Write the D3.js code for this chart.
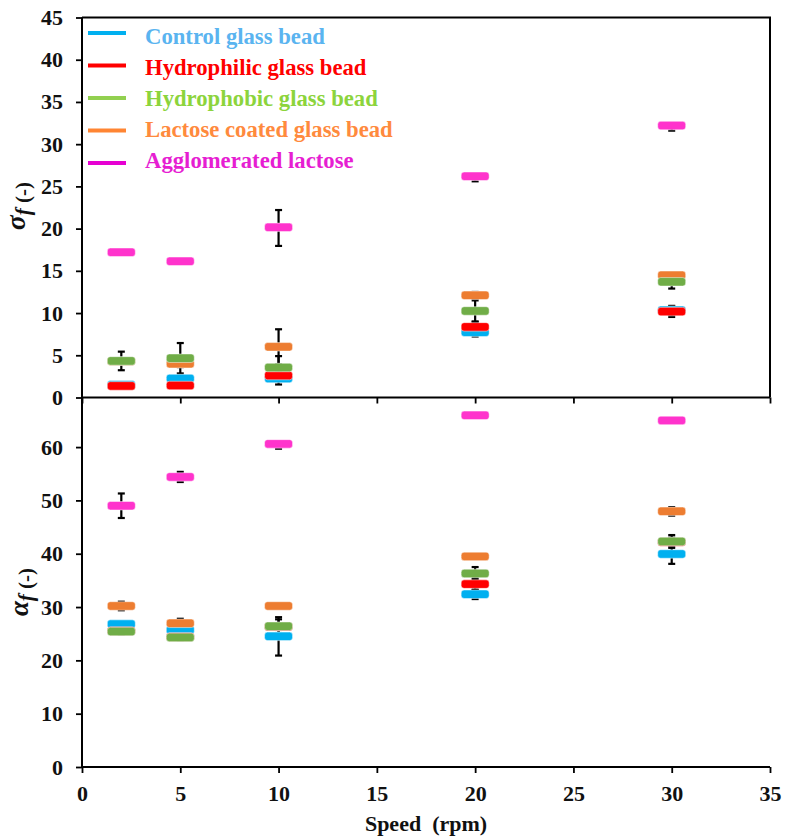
<!DOCTYPE html>
<html>
<head>
<meta charset="utf-8">
<script src="https://cdn.jsdelivr.net/npm/d3@7"></script>
<style>
  html, body { margin: 0; padding: 0; background: #fff; }
  svg { display: block; font-family: "Liberation Serif", "Times New Roman", serif; }
</style>
</head>
<body>
<svg id="chart" width="785" height="838"></svg>
<script>
// ---------------- DATA ----------------
const speeds = [2, 5, 10, 20, 30];
const seriesNames = ["Control glass bead", "Hydrophilic glass bead", "Hydrophobic glass bead", "Lactose coated glass bead", "Agglomerated lactose"];
const xTicks = [0, 5, 10, 15, 20, 25, 30, 35];
const sigmaTicks = [0, 5, 10, 15, 20, 25, 30, 35, 40, 45];
const alphaTicks = [0, 10, 20, 30, 40, 50, 60];

// sigma_f (top panel): means, lower and upper error
const sigmaControl        = [1.50, 2.25, 2.25, 7.73, 10.33];
const sigmaControlErr     = [0.20, 0.30, 0.71, 0.50, 0.52];
const sigmaHydrophilic    = [1.37, 1.42, 2.60, 8.36, 10.17];
const sigmaHydrophilicErr = [0.20, 0.20, 0.30, 0.60, 0.63];
const sigmaHydrophobic    = [4.33, 4.65, 3.55, 10.25, 13.70];
const sigmaHydrophobicErr = [1.10, 1.80, 1.35, 1.25, 0.80];
const sigmaLactose        = [4.30, 4.00, 6.00, 12.10, 14.47];
const sigmaLactoseErr     = [0.30, 0.40, 2.08, 0.40, 0.30];
const sigmaAgglom         = [17.20, 16.13, 20.15, 26.20, 32.20];
const sigmaAgglomErrLow   = [0.30, 0.30, 2.20, 0.60, 0.60];
const sigmaAgglomErrHigh  = [0.30, 0.30, 2.05, 0.30, 0.30];

// alpha_f (bottom panel): means, lower and upper error
const alphaControl        = [26.8, 25.7, 24.5, 32.4, 39.95];
const alphaControlErr     = [0.5, 0.5, 3.6, 0.9, 1.85];
const alphaHydrophilic    = [25.5, 24.4, 26.3, 34.3, 42.2];
const alphaHydrophilicErr = [0.5, 0.5, 0.6, 1.1, 0.8];
const alphaHydrophobic    = [25.4, 24.3, 26.4, 36.3, 42.3];
const alphaHydrophobicErr = [0.5, 0.5, 1.3, 1.2, 1.2];
const alphaLactose        = [30.2, 26.95, 30.2, 39.5, 47.95];
const alphaLactoseErr     = [0.8, 0.85, 0.3, 0.3, 0.8];
const alphaAgglom         = [49.0, 54.4, 60.6, 65.95, 65.0];
const alphaAgglomErrLow   = [2.3, 0.95, 0.9, 0.4, 0.4];
const alphaAgglomErrHigh  = [2.3, 0.95, 0.4, 0.4, 0.4];

// ---------------- STYLE ----------------
const markerColors = ["#00B0F0", "#FF0000", "#70AD47", "#ED7D31", "#FF33CC"];
const legendLineColors = ["#00B0F0", "#FF0000", "#92D050", "#FF8533", "#E600D2"];
const legendTextColors = ["#5AB4F0", "#FF0000", "#8CD43C", "#FF8A3D", "#E61ED2"];
const drawOrder = [0, 1, 3, 2, 4];

const svg = d3.select("#chart");
const pLeft = 82, pRight = 770, pTop = 17.5, pMid = 397.5, pBottom = 767;

const x = d3.scaleLinear().domain([0, 35]).range([pLeft, pRight]);
const ySig = d3.scaleLinear().domain([0, 45]).range([pMid, pTop]);
const yAlp = d3.scaleLinear().domain([0, 69.3]).range([pBottom, pMid]);

const sigmaSeries = [
  [sigmaControl, sigmaControlErr, sigmaControlErr],
  [sigmaHydrophilic, sigmaHydrophilicErr, sigmaHydrophilicErr],
  [sigmaHydrophobic, sigmaHydrophobicErr, sigmaHydrophobicErr],
  [sigmaLactose, sigmaLactoseErr, sigmaLactoseErr],
  [sigmaAgglom, sigmaAgglomErrLow, sigmaAgglomErrHigh]
];
const alphaSeries = [
  [alphaControl, alphaControlErr, alphaControlErr],
  [alphaHydrophilic, alphaHydrophilicErr, alphaHydrophilicErr],
  [alphaHydrophobic, alphaHydrophobicErr, alphaHydrophobicErr],
  [alphaLactose, alphaLactoseErr, alphaLactoseErr],
  [alphaAgglom, alphaAgglomErrLow, alphaAgglomErrHigh]
];

function styleAxis(g) {
  g.selectAll(".domain").remove();
  g.selectAll(".tick line").attr("stroke", "#000").attr("stroke-width", 1.8);
  g.selectAll(".tick text").attr("fill", "#111").attr("font-size", 22).attr("font-weight", "bold")
    .attr("font-family", "'Liberation Serif', 'Times New Roman', serif");
}

// Axes
svg.append("g").attr("transform", `translate(0,${pMid})`)
  .call(d3.axisBottom(x).tickValues(xTicks).tickSize(6).tickFormat(""))
  .call(styleAxis);
svg.append("g").attr("transform", `translate(0,${pBottom})`)
  .call(d3.axisBottom(x).tickValues(xTicks).tickSize(6).tickPadding(12).tickFormat(d3.format("d")))
  .call(styleAxis);
svg.append("g").attr("transform", `translate(${pLeft},0)`)
  .call(d3.axisLeft(ySig).tickValues(sigmaTicks).tickSize(6).tickPadding(13).tickFormat(d3.format("d")))
  .call(styleAxis);
svg.append("g").attr("transform", `translate(${pLeft},0)`)
  .call(d3.axisLeft(yAlp).tickValues(alphaTicks).tickSize(6).tickPadding(13).tickFormat(d3.format("d")))
  .call(styleAxis);

// Frame lines
const frame = svg.append("g").attr("stroke", "#000").attr("stroke-width", 2).attr("fill", "none");
frame.append("path").attr("d", `M${pLeft},${pTop}H${pRight}V${pMid}`);
frame.append("line").attr("x1", pLeft).attr("x2", pRight).attr("y1", pMid).attr("y2", pMid);
frame.append("line").attr("x1", pLeft).attr("x2", pRight).attr("y1", pBottom).attr("y2", pBottom);
frame.append("line").attr("x1", pLeft).attr("x2", pLeft).attr("y1", pTop).attr("y2", pBottom);

// Panels
function drawPanel(series, y) {
  const g = svg.append("g");
  const capW = 7;
  series.forEach(([vals, lo, hi]) => {
    vals.forEach((v, i) => {
      const cx = x(speeds[i]);
      const y1 = y(v + hi[i]), y2 = y(v - lo[i]);
      g.append("line").attr("x1", cx).attr("x2", cx).attr("y1", y1).attr("y2", y2)
        .attr("stroke", "#000").attr("stroke-width", 2.2);
      [y1, y2].forEach(yy => g.append("line").attr("x1", cx - capW / 2).attr("x2", cx + capW / 2)
        .attr("y1", yy).attr("y2", yy).attr("stroke", "#000").attr("stroke-width", 2.2));
    });
  });
  const mw = 28, mh = 8.5;
  drawOrder.forEach(k => {
    const [vals] = series[k];
    g.selectAll(null).data(vals).enter().append("rect")
      .attr("x", (d, i) => x(speeds[i]) - mw / 2)
      .attr("y", d => y(d) - mh / 2)
      .attr("width", mw).attr("height", mh)
      .attr("rx", 3).attr("ry", 3)
      .attr("fill", markerColors[k])
      .attr("stroke", "#fff").attr("stroke-opacity", 0.6).attr("stroke-width", 0.8);
  });
}
drawPanel(sigmaSeries, ySig);
drawPanel(alphaSeries, yAlp);

// Legend
const legend = svg.append("g");
seriesNames.forEach((name, i) => {
  const ly = 33 + i * 32.5;
  legend.append("line").attr("x1", 88).attr("x2", 126).attr("y1", ly).attr("y2", ly)
    .attr("stroke", legendLineColors[i]).attr("stroke-width", 4);
  legend.append("text").attr("x", 145).attr("y", 44 + i * 31)
    .attr("font-size", 22.7).attr("font-weight", "bold")
    .attr("fill", legendTextColors[i]).text(name);
});

// Axis titles
svg.append("text").attr("x", (pLeft + pRight) / 2).attr("y", 831)
  .attr("text-anchor", "middle").attr("font-size", 22).attr("font-weight", "bold")
  .attr("fill", "#111").text("Speed\u00a0 (rpm)");

function yTitle(sym, cx, cy) {
  const t = svg.append("text").attr("transform", `translate(${cx},${cy}) rotate(-90)`)
    .attr("text-anchor", "middle").attr("fill", "#111").attr("font-weight", "bold");
  t.append("tspan").attr("font-style", "italic").attr("font-size", 27).text(sym);
  t.append("tspan").attr("font-style", "italic").attr("font-size", 21).attr("dy", 5).text("f");
  t.append("tspan").attr("font-size", 21).text("\u00a0(-)");
}
yTitle("σ", 25, 206);
yTitle("α", 28, 592);
</script>
</body>
</html>
